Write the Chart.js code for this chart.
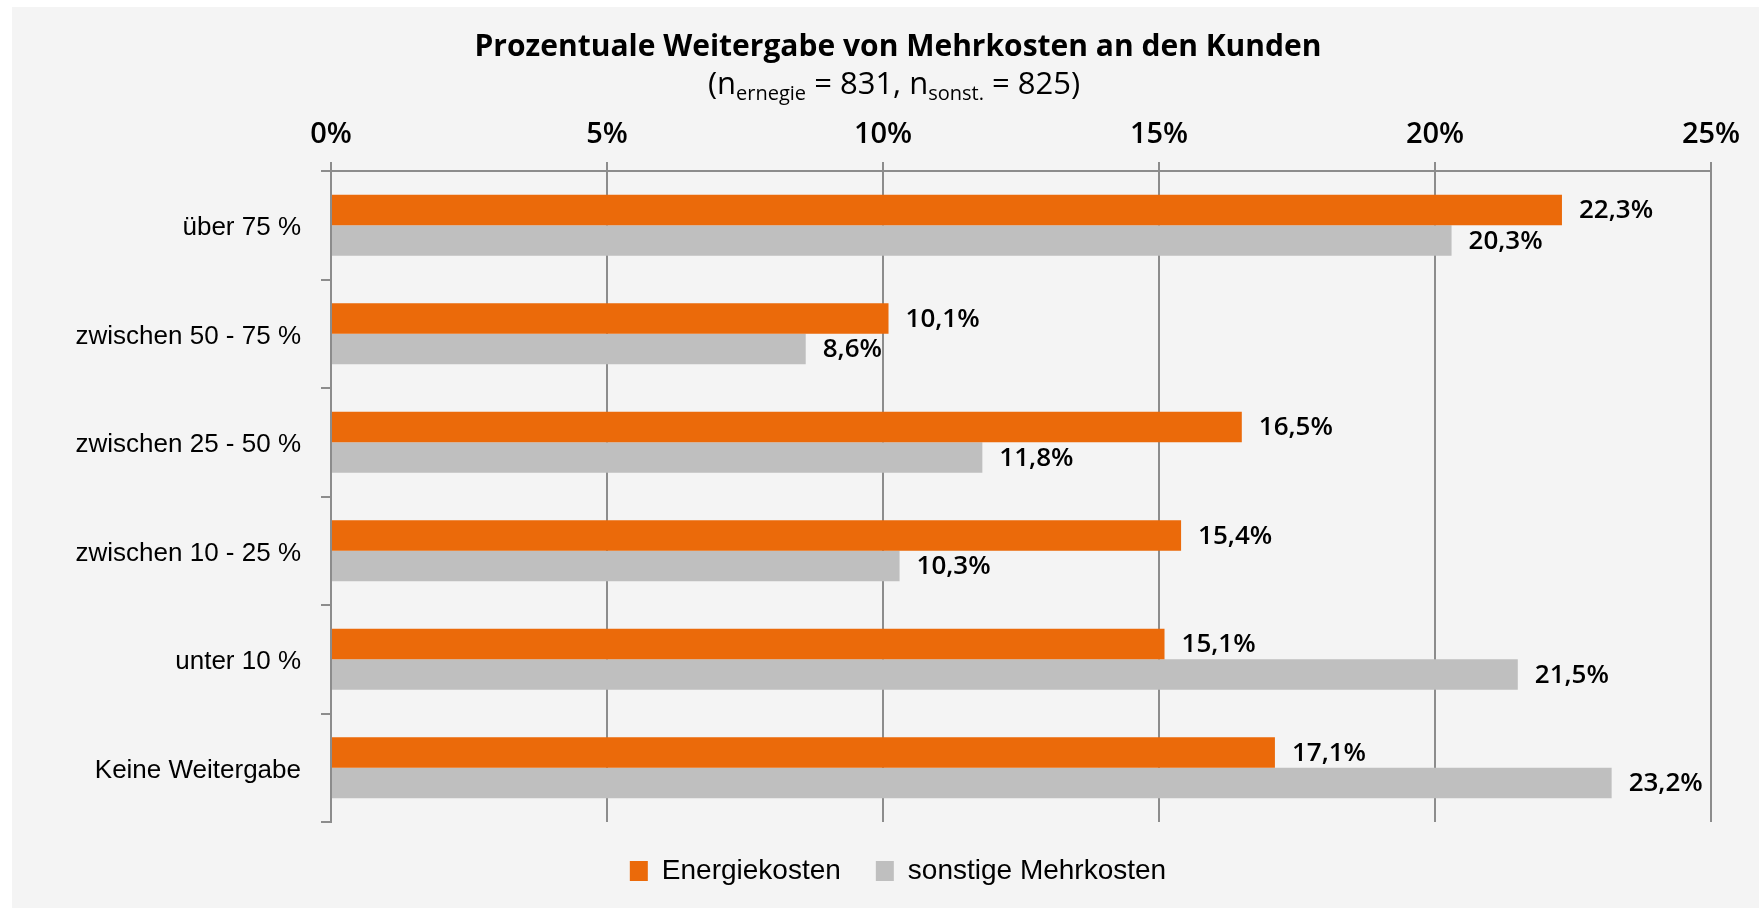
<!DOCTYPE html>
<html>
<head>
<meta charset="utf-8">
<script src="https://cdn.jsdelivr.net/npm/chart.js@4.4.1/dist/chart.umd.min.js"></script>
<style>
  html, body { margin: 0; padding: 0; background: #fff; }
  #wrap { width: 1759px; height: 908px; }
</style>
</head>
<body>
<div id="wrap"><canvas id="chart" width="1759" height="908"></canvas></div>
<script>
const categories = ['über 75 %', 'zwischen 50 - 75 %', 'zwischen 25 - 50 %', 'zwischen 10 - 25 %', 'unter 10 %', 'Keine Weitergabe'];
const energiekosten = [22.3, 10.1, 16.5, 15.4, 15.1, 17.1];
const sonstigeMehrkosten = [20.3, 8.6, 11.8, 10.3, 21.5, 23.2];
const seriesNames = ['Energiekosten', 'sonstige Mehrkosten'];
const xMax = 25;
const xStep = 5;
const titleText = 'Prozentuale Weitergabe von Mehrkosten an den Kunden';
// subtitle with subscripts: [text, isSubscript]
const subtitleParts = [['(n', false], ['ernegie', true], [' = 831, n', false], ['sonst.', true], [' = 825)', false]];

const narrow = '"Liberation Sans", Arial, sans-serif';
const sans = '"Open Sans", "Noto Sans", sans-serif';
const gridColor = '#8c8c8c';

// grey panel behind the chart
const panelBg = {
    id: 'panelBg',
    beforeDraw(chart) {
        const ctx = chart.ctx;
        ctx.save();
        ctx.fillStyle = '#ffffff';
        ctx.fillRect(0, 0, chart.width, chart.height);
        ctx.fillStyle = '#f4f4f4';
        ctx.fillRect(12, 7, chart.width - 12, chart.height - 7);
        ctx.restore();
    }
};

// second title line, with subscripts
const subtitleLine = {
    id: 'subtitleLine',
    afterDraw(chart) {
        const ctx = chart.ctx;
        const mainFont = '31px ' + sans;
        const subFont = '20px ' + sans;
        ctx.save();
        ctx.fillStyle = '#000';
        ctx.textBaseline = 'alphabetic';
        ctx.textAlign = 'left';
        let total = 0;
        subtitleParts.forEach(p => {
            ctx.font = p[1] ? subFont : mainFont;
            total += ctx.measureText(p[0]).width;
        });
        const t = chart.titleBlock;
        let x = (t.left + t.right) / 2 - 4 - total / 2;
        const y = 94;
        subtitleParts.forEach(p => {
            ctx.font = p[1] ? subFont : mainFont;
            ctx.fillText(p[0], x, p[1] ? y + 6 : y);
            x += ctx.measureText(p[0]).width;
        });
        ctx.restore();
    }
};

// value labels at the end of each bar
const barValueLabels = {
    id: 'barValueLabels',
    afterDatasetsDraw(chart) {
        const ctx = chart.ctx;
        ctx.save();
        ctx.font = '600 26px ' + sans;
        ctx.fillStyle = '#000';
        ctx.textBaseline = 'middle';
        ctx.textAlign = 'left';
        chart.data.datasets.forEach((ds, i) => {
            chart.getDatasetMeta(i).data.forEach((bar, j) => {
                const txt = ds.data[j].toFixed(1).replace('.', ',') + '%';
                ctx.fillText(txt, bar.x + 17, bar.y + 1);
            });
        });
        ctx.restore();
    }
};

new Chart(document.getElementById('chart'), {
    type: 'bar',
    data: {
        labels: categories,
        datasets: [
            { label: seriesNames[0], data: energiekosten, backgroundColor: '#eb6a0a', categoryPercentage: 0.56, barPercentage: 1 },
            { label: seriesNames[1], data: sonstigeMehrkosten, backgroundColor: '#bfbfbf', categoryPercentage: 0.56, barPercentage: 1 }
        ]
    },
    options: {
        indexAxis: 'y',
        responsive: false,
        animation: false,
        devicePixelRatio: 1,
        layout: { padding: { left: 37, right: 0, top: 0, bottom: 13 } },
        plugins: {
            title: {
                display: true,
                text: titleText,
                color: '#000',
                font: { family: sans, size: 30, weight: 'bold' },
                padding: { top: 29, bottom: 46 }
            },
            legend: {
                position: 'bottom',
                labels: {
                    color: '#000',
                    font: { family: narrow, size: 28 },
                    boxWidth: 18,
                    boxHeight: 20,
                    padding: 35
                }
            },
            tooltip: { enabled: false }
        },
        scales: {
            x: {
                position: 'top',
                min: 0,
                max: xMax,
                ticks: {
                    stepSize: xStep,
                    color: '#000',
                    font: { family: sans, size: 29, weight: '600' },
                    padding: 10,
                    callback: v => v + '%'
                },
                grid: { color: gridColor, lineWidth: 2, tickLength: 9 },
                border: { display: true, color: gridColor, width: 2 },
                afterFit(scale) {
                    scale.height = 60;
                    scale.paddingRight = 48;
                }
            },
            y: {
                ticks: {
                    color: '#000',
                    font: { family: narrow, size: 26 },
                    padding: 20,
                    labelOffset: 3
                },
                grid: { display: true, drawOnChartArea: false, drawTicks: true, tickLength: 10, color: gridColor, lineWidth: 2, offset: true },
                border: { display: true, color: gridColor, width: 2 },
                afterFit(scale) { scale.width = 294; }
            }
        }
    },
    plugins: [panelBg, subtitleLine, barValueLabels]
});
</script>
</body>
</html>
